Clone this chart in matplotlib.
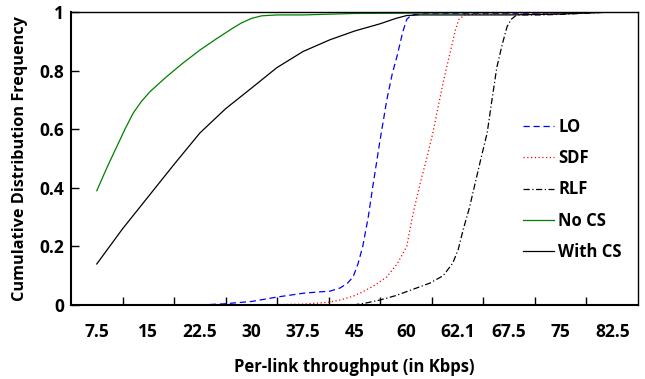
import matplotlib.pyplot as plt

plt.rcParams['font.family'] = ['Open Sans', 'DejaVu Sans']
plt.rcParams['font.weight'] = 'bold'

# category labels shown under the x axis (one per 7.5 Kbps slot)
tick_labels = ['7.5', '15', '22.5', '30', '37.5', '45', '60', '62.1', '67.5', '75', '82.5']

# curves (x in axis units, y = CDF)
lo_x = [22.5, 26, 30, 33.7, 37.5, 40, 41.4, 42.9, 44, 44.8, 45.5, 46.2, 47, 47.7, 48.7, 49.7, 50.5,
        51.2, 52, 52.6, 53.3, 55, 60, 67.5, 75, 82.5]
lo_y = [0.0, 0.004, 0.012, 0.027, 0.04, 0.045, 0.047, 0.058, 0.075, 0.096, 0.14, 0.2, 0.3, 0.41, 0.56, 0.70, 0.79,
        0.85, 0.93, 0.975, 0.99, 0.995, 0.995, 0.995, 0.997, 1.0]

sdf_x = [30.8, 37.5, 40, 41.4, 42.9, 44.8, 46.2, 48, 49.7, 51.2, 52.6, 53.5, 54.5, 55.5, 56.4, 57.2,
         57.9, 58.6, 59.2, 59.7, 60.2, 61, 63, 67.5, 75, 82.5]
sdf_y = [0.0, 0.003, 0.007, 0.01, 0.017, 0.03, 0.045, 0.068, 0.096, 0.14, 0.2, 0.31, 0.41, 0.50, 0.587, 0.68,
         0.76, 0.83, 0.89, 0.94, 0.975, 0.99, 0.993, 0.993, 0.995, 1.0]

rlf_x = [44.8, 46.5, 48.7, 51, 53.1, 56, 57.9, 59.3, 60.1, 60.8, 61.7, 62.5, 63.4, 64.3, 65, 65.7,
         66.5, 67.2, 67.8, 68.6, 72, 75, 82.5]
rlf_y = [0.0, 0.006, 0.017, 0.032, 0.05, 0.075, 0.1, 0.143, 0.19, 0.256, 0.33, 0.41, 0.50, 0.587, 0.70, 0.81,
         0.89, 0.95, 0.975, 0.99, 0.99, 0.992, 1.0]

nocs_x = [7.5, 9, 10.4, 11.6, 12.8, 14, 15.2, 16.5, 17.7, 20, 22.5, 25, 27.3, 28.5, 30, 31.5, 33.75, 37.5,
          45, 60, 75, 82.5]
nocs_y = [0.39, 0.47, 0.54, 0.60, 0.655, 0.695, 0.727, 0.755, 0.78, 0.825, 0.87, 0.91, 0.945, 0.962, 0.978,
          0.987, 0.99, 0.99, 0.995, 0.997, 0.999, 1.0]

withcs_x = [7.5, 11.25, 15, 18.75, 22.5, 26.25, 30, 33.7, 37.5, 41.4, 45, 48.75, 51, 52.6, 54.5, 56.25, 60,
            67.5, 75, 82.5]
withcs_y = [0.14, 0.26, 0.37, 0.48, 0.587, 0.67, 0.74, 0.81, 0.865, 0.905, 0.935, 0.96, 0.978, 0.988, 0.99,
            0.99, 0.99, 0.99, 0.993, 1.0]

fig = plt.figure(figsize=(6.45, 3.79), dpi=100)
ax = fig.add_axes([71 / 645, 1 - 305 / 379, 567 / 645, 293 / 379])

ax.plot(lo_x, lo_y, color='#0000ff', lw=0.9, dashes=(5, 3), label='LO')
ax.plot(sdf_x, sdf_y, color='#ff0000', lw=0.9, linestyle=(0, (1, 2)), label='SDF')
ax.plot(rlf_x, rlf_y, color='black', lw=0.9, dashes=(5, 2, 1, 2), label='RLF')
ax.plot(nocs_x, nocs_y, color='#008000', lw=0.9, label='No CS')
ax.plot(withcs_x, withcs_y, color='black', lw=0.9, label='With CS')

centers = [7.5 * (i + 1) for i in range(len(tick_labels))]
ax.set_xlim(3.75, 86.25)
ax.set_ylim(0, 1)
ax.set_xticks(centers)
ax.set_xticklabels(tick_labels)
ax.set_xticks([3.75 + 7.5 * k for k in range(1, 11)], minor=True)
ax.tick_params(axis='x', which='major', length=0, pad=13, labelsize=12.5)
ax.tick_params(axis='x', which='minor', direction='in', length=6, width=1)
ax.set_yticks([0, 0.2, 0.4, 0.6, 0.8, 1.0])
ax.set_yticklabels(['0', '0.2', '0.4', '0.6', '0.8', '1'])
ax.tick_params(axis='y', direction='in', length=6, width=1, labelsize=12.5, pad=5)

for s in ['left', 'bottom']:
    ax.spines[s].set_linewidth(1.5)
for s in ['top', 'right']:
    ax.spines[s].set_linewidth(1.0)

ax.set_xlabel('Per-link throughput (in Kbps)', fontsize=12, fontweight='bold', va='center')
ax.xaxis.set_label_coords(0.5, (305 - 367) / 293)
ax.set_ylabel('Cumulative Distribution Frequency', fontsize=11.7, fontweight='bold', labelpad=8)

ax.legend(loc='upper left', bbox_to_anchor=(0.77, 0.69), frameon=False, fontsize=12,
          handlelength=1.9, handletextpad=0.25, labelspacing=0.8)

fig.savefig('out.png', dpi=100)
